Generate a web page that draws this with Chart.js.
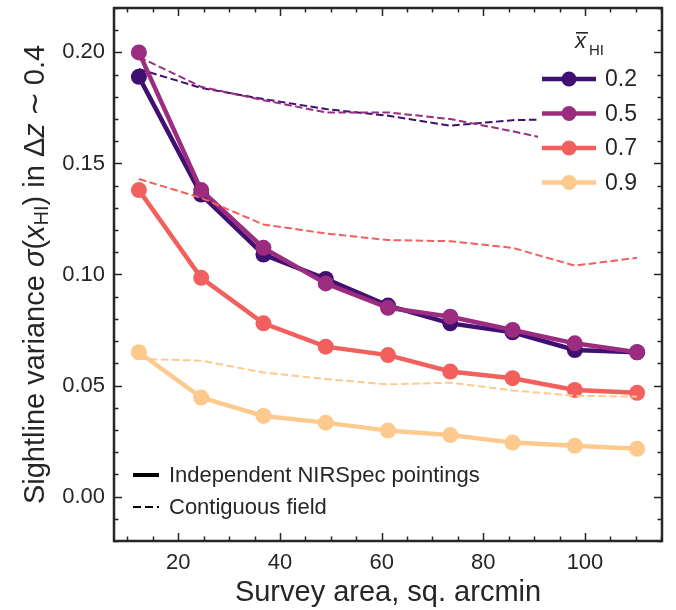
<!DOCTYPE html>
<html><head><meta charset="utf-8">
<script src="https://cdn.jsdelivr.net/npm/chart.js@4/dist/chart.umd.min.js"></script>
<style>html,body{margin:0;padding:0;background:#fff;}canvas{display:block;}</style>
</head><body>
<canvas id="c" width="676" height="610"></canvas>
<script>
// ---- data ----
const areas = [12.25, 24.5, 36.75, 49, 61.25, 73.5, 85.75, 98, 110.25];
const xhiLabels = ['0.2', '0.5', '0.7', '0.9'];
const colors = ['#3f0f72', '#9b2c7f', '#f1605d', '#fec98d'];
const indep02 = [0.189, 0.136, 0.109, 0.098, 0.086, 0.078, 0.074, 0.066, 0.065];
const indep05 = [0.200, 0.138, 0.112, 0.096, 0.085, 0.081, 0.075, 0.069, 0.065];
const indep07 = [0.138, 0.0985, 0.078, 0.0675, 0.0637, 0.0563, 0.0533, 0.048, 0.0467];
const indep09 = [0.065, 0.0446, 0.0363, 0.0333, 0.0297, 0.0277, 0.0243, 0.0229, 0.0215];
const contig02 = [0.1925, 0.1840, 0.1790, 0.1745, 0.1715, 0.1670, 0.1695, 0.1700, 0.1690];
const contig05 = [0.1980, 0.1845, 0.1785, 0.1730, 0.1730, 0.1700, 0.1645, 0.1585, 0.1550];
const contig07 = [0.1430, 0.1345, 0.1225, 0.1185, 0.1155, 0.1150, 0.1120, 0.1040, 0.1075];
const contig09 = [0.0620, 0.0612, 0.0559, 0.0529, 0.0505, 0.0513, 0.0478, 0.0454, 0.0450];
const xTicks = [20, 40, 60, 80, 100];
const yTicks = [0.00, 0.05, 0.10, 0.15, 0.20];
const xMinorStep = 5;
const yMinorStep = 0.01;
const styleLabels = ['Independent NIRSpec pointings', 'Contiguous field'];

const indepAll = [indep02, indep05, indep07, indep09];
const contigAll = [contig02, contig05, contig07, contig09];
const FONT = "'Liberation Sans', Arial, sans-serif";
const INK = '#262626';

const datasets = [];
xhiLabels.forEach((lab, i) => {
  datasets.push({
    label: lab, data: areas.map((x, j) => ({x, y: indepAll[i][j]})),
    borderColor: colors[i], backgroundColor: colors[i], pointBackgroundColor: colors[i],
    borderWidth: 4.5, pointRadius: 8, pointBorderWidth: 0, pointHoverRadius: 8,
    tension: 0, order: 100 - 2 * i
  });
  datasets.push({
    label: lab + ' contiguous', data: areas.map((x, j) => ({x, y: contigAll[i][j]})),
    borderColor: colors[i], borderWidth: 2, borderDash: [7.5, 3.5], pointRadius: 0,
    tension: 0, order: 99 - 2 * i
  });
});

function drawRich(ctx, parts, x, y) {
  let total = 0;
  parts.forEach(p => { ctx.font = (p.italic ? 'italic ' : '') + p.size + 'px ' + FONT; p.w = ctx.measureText(p.t).width + (p.gap || 0); total += p.w; });
  let cx = x - total / 2;
  parts.forEach(p => {
    ctx.font = (p.italic ? 'italic ' : '') + p.size + 'px ' + FONT;
    ctx.fillText(p.t, cx + (p.gap || 0) / 2, y + (p.dy || 0));
    cx += p.w;
  });
}

const decor = {
  id: 'decor',
  afterDatasetsDraw(chart) {
    const ctx = chart.ctx;
    ctx.save();
    ctx.fillStyle = '#fff';
    ctx.fillRect(538, 20, 113, 182);
    ctx.fillStyle = INK;
    ctx.textBaseline = 'alphabetic';
    ctx.font = 'italic 22px ' + FONT;
    ctx.textAlign = 'left';
    ctx.fillText('x', 575, 48);
    ctx.fillRect(576, 32, 12, 1.6);
    ctx.font = '15px ' + FONT;
    ctx.fillText('HI', 589, 55);
    const ys = [79, 113.5, 148, 182.5];
    xhiLabels.forEach((lab, i) => {
      const y = ys[i];
      ctx.strokeStyle = colors[i];
      ctx.lineWidth = 4.5;
      ctx.beginPath(); ctx.moveTo(542, y); ctx.lineTo(596, y); ctx.stroke();
      ctx.fillStyle = colors[i];
      ctx.beginPath(); ctx.arc(569, y, 7.5, 0, Math.PI * 2); ctx.fill();
      ctx.fillStyle = INK;
      ctx.font = '23px ' + FONT;
      ctx.textBaseline = 'middle';
      ctx.fillText(lab, 605, y + 1);
    });
    ctx.strokeStyle = '#000';
    ctx.lineWidth = 4;
    ctx.beginPath(); ctx.moveTo(133, 475); ctx.lineTo(159, 475); ctx.stroke();
    ctx.lineWidth = 2;
    ctx.setLineDash([8, 4]);
    ctx.beginPath(); ctx.moveTo(133, 507); ctx.lineTo(159, 507); ctx.stroke();
    ctx.setLineDash([]);
    ctx.fillStyle = INK;
    ctx.font = '22px ' + FONT;
    ctx.textBaseline = 'middle';
    ctx.fillText(styleLabels[0], 169, 476);
    ctx.fillText(styleLabels[1], 169, 508);
    ctx.restore();
  },
  afterDraw(chart) {
    const ctx = chart.ctx;
    const a = chart.chartArea;
    const xs = chart.scales.x, ys = chart.scales.y;
    ctx.save();
    ctx.strokeStyle = INK;
    ctx.lineWidth = 1.5;
    const maj = 8, mnr = 4.5;
    const xmajor = new Set(xTicks);
    for (let v = Math.ceil(xs.min / xMinorStep) * xMinorStep; v <= xs.max; v += xMinorStep) {
      const px = Math.round(xs.getPixelForValue(v)) + 0.5;
      const L = xmajor.has(v) ? maj : mnr;
      ctx.beginPath();
      ctx.moveTo(px, a.bottom); ctx.lineTo(px, a.bottom - L);
      ctx.moveTo(px, a.top); ctx.lineTo(px, a.top + L);
      ctx.stroke();
    }
    for (let k = Math.ceil(ys.min / yMinorStep - 1e-9); k * yMinorStep <= ys.max + 1e-9; k++) {
      const v = k * yMinorStep;
      const py = Math.round(ys.getPixelForValue(v)) + 0.5;
      const L = (k % 5 === 0) ? maj : mnr;
      ctx.beginPath();
      ctx.moveTo(a.left, py); ctx.lineTo(a.left + L, py);
      ctx.moveTo(a.right, py); ctx.lineTo(a.right - L, py);
      ctx.stroke();
    }
    ctx.lineWidth = 2.5;
    ctx.strokeRect(a.left, a.top, a.right - a.left, a.bottom - a.top);
    ctx.fillStyle = INK;
    ctx.textAlign = 'left';
    ctx.textBaseline = 'middle';
    drawRich(ctx, [{t: 'Survey area, sq. arcmin', size: 29}], (a.left + a.right) / 2, 593);
    ctx.translate(36, (a.top + a.bottom) / 2);
    ctx.rotate(-Math.PI / 2);
    drawRich(ctx, [
      {t: 'Sightline variance ', size: 29},
      {t: 'σ', size: 29, italic: true},
      {t: '(', size: 29},
      {t: 'x', size: 29, italic: true},
      {t: 'HI', size: 20, dy: 6},
      {t: ') in Δ', size: 29},
      {t: 'z', size: 29, italic: true},
      {t: '∼', size: 29, gap: 14},
      {t: '0.4', size: 29}
    ], 0, 0);
    ctx.restore();
  }
};

function noPad(s) { s.paddingTop = 0; s.paddingBottom = 0; s.paddingLeft = 0; s.paddingRight = 0; }

new Chart(document.getElementById('c'), {
  type: 'line',
  data: {datasets},
  options: {
    responsive: false, animation: false, devicePixelRatio: 1,
    layout: {padding: {left: 0, right: 14, top: 7, bottom: 0}},
    plugins: {legend: {display: false}, tooltip: {enabled: false}},
    scales: {
      x: {
        type: 'linear', min: 7.35, max: 115.15,
        afterBuildTicks: s => { s.ticks = xTicks.map(v => ({value: v})); },
        afterFit: s => { s.height = 69; noPad(s); },
        grid: {display: false, drawTicks: false}, border: {display: false},
        ticks: {font: {family: FONT, size: 22}, color: INK, padding: 9, maxRotation: 0, autoSkip: false}
      },
      y: {
        type: 'linear', min: -0.02, max: 0.22,
        afterBuildTicks: s => { s.ticks = yTicks.map(v => ({value: v})); },
        afterFit: s => { s.width = 114; noPad(s); },
        grid: {display: false, drawTicks: false}, border: {display: false},
        ticks: {font: {family: FONT, size: 22}, color: INK, padding: 9, autoSkip: false, callback: v => v.toFixed(2)}
      }
    }
  },
  plugins: [decor]
});
</script>
</body></html>
